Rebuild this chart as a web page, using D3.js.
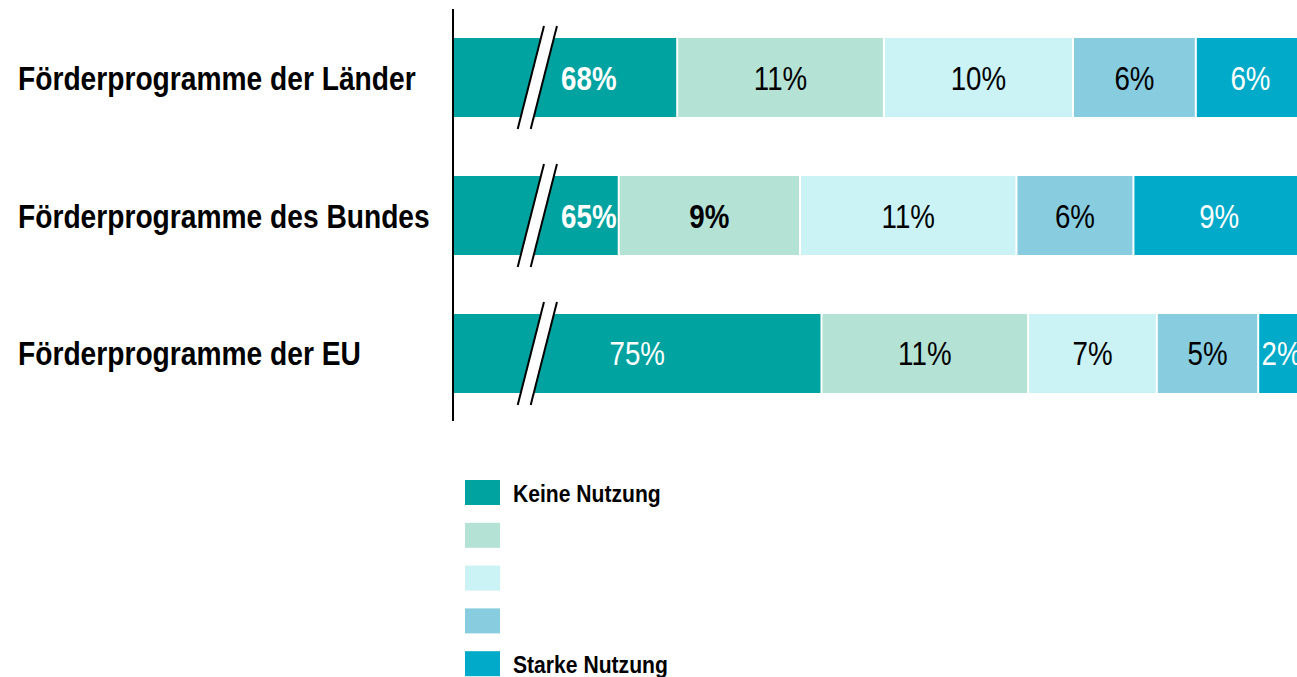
<!DOCTYPE html>
<html>
<head>
<meta charset="utf-8">
<script src="https://cdn.jsdelivr.net/npm/d3@7"></script>
<style>
  body { margin: 0; background: #fff; }
  svg text { font-family: "Liberation Sans", Arial, sans-serif; }
</style>
</head>
<body>
<script>
// data (shares in %; labels are rounded)
var categories = ["Förderprogramme der Länder", "Förderprogramme des Bundes", "Förderprogramme der EU"];
var levels = ["Keine Nutzung", "", "", "", "Starke Nutzung"];
var laender = [67.8, 10.6, 9.7, 6.3, 5.6];
var bund = [64.8, 9.3, 11.1, 6.0, 8.8];
var eu = [75.2, 10.6, 6.6, 5.2, 2.4];
var boldLabels = [[true, false, false, false, false], [true, true, false, false, false], [false, false, false, false, false]];
var colors = ["#00a3a0", "#b4e3d6", "#cbf2f5", "#87cddf", "#00aac8"];
var textColors = ["#fff", "#000", "#000", "#000", "#fff"];

var breakAt = 56.3;    // axis starts here (broken axis)
var breakMark = 60.6;  // where the break symbol sits

var rows = [laender, bund, eu];

var width = 1297, height = 677;
var narrow = 0.84; // no narrow font installed, squeeze text instead

var svg = d3.select("body").append("svg")
    .attr("width", width)
    .attr("height", height);

var x = d3.scaleLinear()
    .domain([breakAt, 100])
    .range([453, 1305]);

var y = d3.scaleBand()
    .domain(categories)
    .range([38, 393])
    .paddingInner(0.4275);

// stack each row
var stacked = rows.map(function (vals, r) {
    var acc = 0;
    return vals.map(function (v, i) {
        var seg = { row: categories[r], r: r, i: i, v: v, x0: acc, x1: acc + v };
        acc += v;
        return seg;
    });
});

var segs = d3.merge(stacked);

var g = svg.append("g");

g.selectAll("rect.seg")
    .data(segs)
    .enter()
    .append("rect")
    .attr("class", "seg")
    .attr("x", d => d.i == 0 ? x(breakAt) : x(d.x0) + 1)
    .attr("width", d => Math.max(0, x(d.x1) - (d.i == 0 ? x(breakAt) : x(d.x0) + 1) - 1))
    .attr("y", d => y(d.row))
    .attr("height", y.bandwidth())
    .attr("fill", d => colors[d.i]);

// value labels
var bx = x(breakMark);
g.selectAll("text.val")
    .data(segs)
    .enter()
    .append("text")
    .attr("class", "val")
    .attr("transform", function (d) {
        var c = ((d.i == 0 ? x(breakAt) : x(d.x0)) + x(d.x1)) / 2;
        if (d.i == 0) c = Math.max(c, bx + 52);
        return "translate(" + c + "," + (y(d.row) + y.bandwidth() / 2 + 12) + ") scale(" + narrow + ",1)";
    })
    .attr("text-anchor", "middle")
    .style("font-size", "33px")
    .style("font-weight", d => boldLabels[d.r][d.i] ? "bold" : "normal")
    .attr("fill", d => textColors[d.i])
    .text(d => Math.round(d.v) + "%");

// axis break symbols
var slant = 0.255;
categories.forEach(function (c) {
    var top = y(c) - 12, bot = y(c) + y.bandwidth() + 12;
    var mid = (top + bot) / 2;
    var l1 = bx - 6, l2 = bx + 7;
    function px(base, yy) { return base - (yy - mid) * slant; }
    g.append("polygon")
        .attr("points", [
            [px(l1, top), top], [px(l2, top), top],
            [px(l2, bot), bot], [px(l1, bot), bot]
        ].map(p => p.join(",")).join(" "))
        .attr("fill", "#fff");
    [l1, l2].forEach(function (b) {
        g.append("line")
            .attr("x1", px(b, top)).attr("y1", top)
            .attr("x2", px(b, bot)).attr("y2", bot)
            .attr("stroke", "#000")
            .attr("stroke-width", 2);
    });
});

// vertical axis line
svg.append("line")
    .attr("x1", x(breakAt)).attr("x2", x(breakAt))
    .attr("y1", 9).attr("y2", 421)
    .attr("stroke", "#000")
    .attr("stroke-width", 2);

// category labels
svg.selectAll("text.cat")
    .data(categories)
    .enter()
    .append("text")
    .attr("class", "cat")
    .attr("transform", d => "translate(18," + (y(d) + y.bandwidth() / 2 + 12) + ") scale(0.854,1)")
    .style("font-size", "33px")
    .style("font-weight", "bold")
    .attr("fill", "#000")
    .text(d => d);

// legend
var legend = svg.append("g").attr("transform", "translate(465,480)");
var li = legend.selectAll("g")
    .data(levels)
    .enter()
    .append("g")
    .attr("transform", (d, i) => "translate(0," + i * 42.8 + ")");
li.append("rect")
    .attr("width", 35)
    .attr("height", 25)
    .attr("fill", (d, i) => colors[i]);
li.append("text")
    .attr("transform", "translate(48,22) scale(0.88,1)")
    .style("font-size", "24px")
    .style("font-weight", "bold")
    .attr("fill", "#000")
    .text(d => d);
</script>
</body>
</html>
